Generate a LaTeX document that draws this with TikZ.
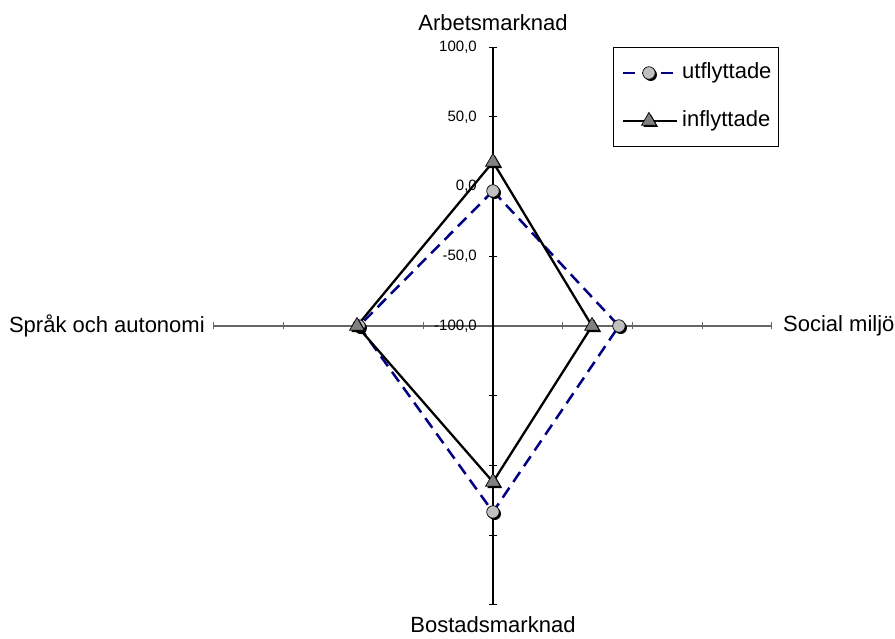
\documentclass[tikz,border=0pt]{standalone}
\usepackage{fontspec}
\setmainfont{Liberation Sans}
\usetikzlibrary{positioning,shapes.geometric,shadows}
\definecolor{navy}{RGB}{0,0,128}
\definecolor{silver}{RGB}{192,192,192}
\definecolor{midgray}{RGB}{128,128,128}

\begin{document}
\begin{tikzpicture}[
    x=1.395pt,y=1.395pt,
    axisv/.style={line width=1.2pt,draw=black},
    axish/.style={line width=1.2pt,draw=black!60},
    tick/.style={line width=1pt},
    cat/.style={font=\fontsize{22}{26}\selectfont,inner sep=0pt},
    val/.style={font=\fontsize{15}{18}\selectfont,inner sep=0pt,anchor=east},
    uline/.style={draw=navy,line width=2.5pt,dash pattern=on 12pt off 7pt},
    iline/.style={draw=black,line width=2.3pt},
    umark/.style={circle,draw=black,line width=0.7pt,fill=silver,minimum size=12.5pt,inner sep=0pt,
        drop shadow={shadow xshift=1.8pt,shadow yshift=-1.8pt,fill=black,opacity=1}},
    imark/.style={regular polygon,regular polygon sides=3,draw=black,line width=0.7pt,fill=midgray,
        minimum size=17pt,inner sep=0pt,
        drop shadow={shadow xshift=1.8pt,shadow yshift=-1.8pt,fill=black,opacity=1}},
    legtext/.style={font=\fontsize{22}{26}\selectfont,inner sep=0pt,anchor=west}
]
    \useasboundingbox (-353.4,-223.7) rectangle (288.2,233.7);

    % axes
    \coordinate (o) at (0,0);
    \coordinate (top) at (90:200);
    \coordinate (bot) at (-90:200);
    \coordinate (lft) at (180:200);
    \coordinate (rgt) at (0:200);
    \draw[axish] (lft) -- (rgt);
    \draw[axisv] (bot) -- (top);
    \foreach \r in {50,100,150,200} {
        \draw[tick] ([xshift=-4pt]0,\r) -- ([xshift=4pt]0,\r);
        \draw[tick] ([xshift=-4pt]0,-\r) -- ([xshift=4pt]0,-\r);
        \draw[tick,black!60] ([yshift=-3.5pt]\r,0) -- ([yshift=3.5pt]\r,0);
        \draw[tick,black!60] ([yshift=-3.5pt]-\r,0) -- ([yshift=3.5pt]-\r,0);
    }

    % value labels
    \node[val] (v0) at ([xshift=-16pt]0,0) {-100,0};
    \node[val] (v1) at ([xshift=-16pt]0,50) {-50,0};
    \node[val] (v2) at ([xshift=-16pt]0,100) {0,0};
    \node[val] (v3) at ([xshift=-16pt]0,150) {50,0};
    \node[val] (v4) at ([xshift=-16pt]0,200) {100,0};

    % category labels
    \node[cat] (arb) at (0,217.2) {Arbetsmarknad};
    \node[cat] (bos) at (0,-214.3) {Bostadsmarknad};
    \node[cat,anchor=east] (spr) at (-206.5,0) {Språk och autonomi};
    \node[cat,anchor=west] (soc) at (207.9,0) {Social miljö};

    % data: value + 100
    \coordinate (u1) at (90:96.8);
    \coordinate (u2) at (0:90.3);
    \coordinate (u3) at (-90:133.3);
    \coordinate (u4) at (180:96.1);
    \coordinate (i1) at (90:117.6);
    \coordinate (i2) at (0:71.0);
    \coordinate (i3) at (-90:111.8);
    \coordinate (i4) at (180:97.5);
    \draw[uline] (u1) -- (u2) -- (u3) -- (u4) -- cycle;
    \draw[iline] (i1) -- (i2) -- (i3) -- (i4) -- cycle;
    \node[umark] (mu1) at (u1) {};
    \node[umark] (mu2) at (u2) {};
    \node[umark] (mu3) at (u3) {};
    \node[umark] (mu4) at (u4) {};
    \node[imark] (mi1) at (i1) {};
    \node[imark] (mi2) at (i2) {};
    \node[imark] (mi3) at (i3) {};
    \node[imark] (mi4) at (i4) {};

    % legend
    \draw[line width=1pt] (86.7,129) rectangle (205,199.3);
    \coordinate (la1) at (93.2,181.4);
    \coordinate (la2) at (131.9,181.4);
    \coordinate (lb1) at (93.2,147);
    \coordinate (lb2) at (131.9,147);
    \draw[uline] (la1) -- (la2);
    \draw[iline] (lb1) -- (lb2);
    \node[umark] (lmu) at (111.8,181.4) {};
    \node[imark] (lmi) at (111.8,147) {};
    \node[legtext] (lu) at (135.5,181.4) {utflyttade};
    \node[legtext] (li) at (135.5,147) {inflyttade};
\end{tikzpicture}
\end{document}
